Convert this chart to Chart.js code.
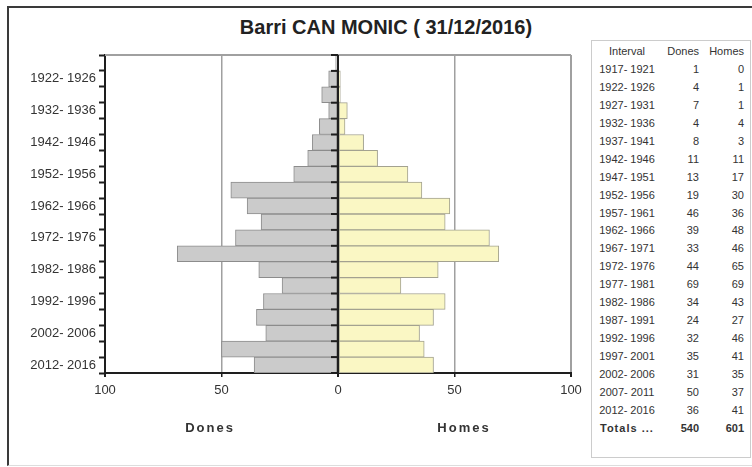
<!DOCTYPE html>
<html lang="ca">
<head>
<meta charset="UTF-8">
<title>Barri CAN MONIC (31/12/2016)</title>
<script src="https://cdn.jsdelivr.net/npm/chart.js"></script>
<style>
  body { margin: 0; background: #fff; font-family: 'Liberation Sans', Arial, sans-serif; color: #333; }
  #frame {
    position: absolute; left: 7px; top: 6px; width: 760px; height: 457px;
    border-top: 2px solid #3a3a3a; border-left: 2px solid #3a3a3a; border-bottom: 1px solid #ddd;
  }
  #title {
    position: absolute; left: 186px; width: 400px; top: 15px; text-align: center;
    font-weight: bold; font-size: 20px; line-height: 24px; color: #222;
  }
  #chart-box { position: absolute; left: 10px; top: 40px; width: 580px; height: 420px; }
  .side {
    position: absolute; top: 420px; font-weight: bold; font-size: 13px;
    letter-spacing: 2px; transform: translateX(-50%); color: #333;
  }
  #table-box {
    position: absolute; left: 591px; top: 40px; width: 158px; height: 416px;
    border: 1px solid #ccc; font-size: 11px; color: #333;
  }
  .row { display: flex; height: 17.94px; line-height: 17.94px; margin-left: 3px; }
  .row.head { height: 20px; line-height: 20px; }
  .c1 { width: 64px; text-align: center; }
  .c2 { width: 40px; text-align: right; }
  .c3 { width: 45px; text-align: right; }
  .row.tot { font-weight: bold; }
  .row.tot .c1 { text-align: left; padding-left: 5px; width: 59px; letter-spacing: 1px; }
</style>
</head>
<body>
<div id="frame"></div>
<div id="title">Barri CAN MONIC ( 31/12/2016)</div>
<div id="chart-box"><canvas id="pyramid"></canvas></div>
<div class="side" style="left:210px">Dones</div>
<div class="side" style="left:464px">Homes</div>
<div id="table-box"></div>

<script>
const intervals = ['1917- 1921', '1922- 1926', '1927- 1931', '1932- 1936', '1937- 1941',
                   '1942- 1946', '1947- 1951', '1952- 1956', '1957- 1961', '1962- 1966',
                   '1967- 1971', '1972- 1976', '1977- 1981', '1982- 1986', '1987- 1991',
                   '1992- 1996', '1997- 2001', '2002- 2006', '2007- 2011', '2012- 2016'];
const dones = [1, 4, 7, 4, 8, 11, 13, 19, 46, 39, 33, 44, 69, 34, 24, 32, 35, 31, 50, 36];
const homes = [0, 1, 1, 4, 3, 11, 17, 30, 36, 48, 46, 65, 69, 43, 27, 46, 41, 35, 37, 41];
const xTicks = [-100, -50, 0, 50, 100];

// side table
const box = document.getElementById('table-box');
function addRow(cls, a, b, c) {
    const r = document.createElement('div');
    r.className = 'row ' + cls;
    r.innerHTML = `<span class="c1">${a}</span><span class="c2">${b}</span><span class="c3">${c}</span>`;
    box.appendChild(r);
}
addRow('head', 'Interval', 'Dones', 'Homes');
intervals.forEach((lab, i) => addRow('', lab, dones[i], homes[i]));
addRow('tot', 'Totals ...', dones.reduce((s, v) => s + v, 0), homes.reduce((s, v) => s + v, 0));

// frame line on top of plot + centre axis with its ticks
const axisPlugin = {
    id: 'axisPlugin',
    afterDatasetsDraw(chart) {
        const { ctx, chartArea, scales } = chart;
        const x0 = scales.x.getPixelForValue(0);
        ctx.save();
        ctx.strokeStyle = '#a0a0a0';
        ctx.lineWidth = 2;
        ctx.beginPath();
        ctx.moveTo(chartArea.left, chartArea.top);
        ctx.lineTo(chartArea.right, chartArea.top);
        ctx.stroke();
        ctx.strokeStyle = '#1e1e1e';
        ctx.beginPath();
        ctx.moveTo(x0, chartArea.top);
        ctx.lineTo(x0, chartArea.bottom);
        ctx.stroke();
        for (let i = 0; i <= intervals.length; i++) {
            const y = scales.y.getPixelForValue(i - 0.5);
            ctx.beginPath();
            ctx.moveTo(x0 - 7, y);
            ctx.lineTo(x0, y);
            ctx.stroke();
        }
        ctx.restore();
    }
};

Chart.defaults.font.family = "'Liberation Sans', Arial, sans-serif";
Chart.defaults.color = '#333';

new Chart(document.getElementById('pyramid'), {
    type: 'bar',
    data: {
        labels: intervals,
        datasets: [{
            label: 'Dones',
            data: dones.map(v => -v),
            backgroundColor: '#cbcbcb',
            borderColor: '#8c8c8c',
            borderWidth: 1,
            borderSkipped: false,
            barPercentage: 1,
            categoryPercentage: 1
        }, {
            label: 'Homes',
            data: homes,
            backgroundColor: '#faf7c4',
            borderColor: '#a3a290',
            borderWidth: 1,
            borderSkipped: false,
            barPercentage: 1,
            categoryPercentage: 1
        }]
    },
    options: {
        indexAxis: 'y',
        responsive: true,
        maintainAspectRatio: false,
        animation: false,
        layout: { padding: { top: 15, right: 19, left: 0, bottom: 0 } },
        plugins: { legend: { display: false }, tooltip: { enabled: false } },
        scales: {
            x: {
                stacked: true,
                min: -100,
                max: 100,
                afterBuildTicks: s => { s.ticks = xTicks.map(v => ({ value: v })); },
                afterFit: s => { s.height = 87; },
                ticks: {
                    padding: 6,
                    font: { size: 13 },
                    color: '#333',
                    callback: v => Math.abs(v)
                },
                grid: {
                    color: c => c.tick && c.tick.value === 0 ? '#1e1e1e' : '#a0a0a0',
                    lineWidth: c => c.tick && Math.abs(c.tick.value) === 50 ? 1.5 : 2,
                    tickColor: '#1e1e1e',
                    tickLength: 4
                },
                border: { display: true, color: '#1e1e1e', width: 2 }
            },
            y: {
                stacked: true,
                afterFit: s => { s.width = 95; },
                ticks: {
                    autoSkip: false,
                    padding: 3,
                    font: { size: 13 },
                    color: '#333',
                    callback: (v, i) => i % 2 === 1 ? intervals[i] : ''
                },
                grid: {
                    offset: true,
                    drawOnChartArea: false,
                    tickLength: 6,
                    tickWidth: 2,
                    tickColor: '#1e1e1e'
                },
                border: { display: true, color: '#1e1e1e', width: 2 }
            }
        }
    },
    plugins: [axisPlugin]
});
</script>
</body>
</html>
